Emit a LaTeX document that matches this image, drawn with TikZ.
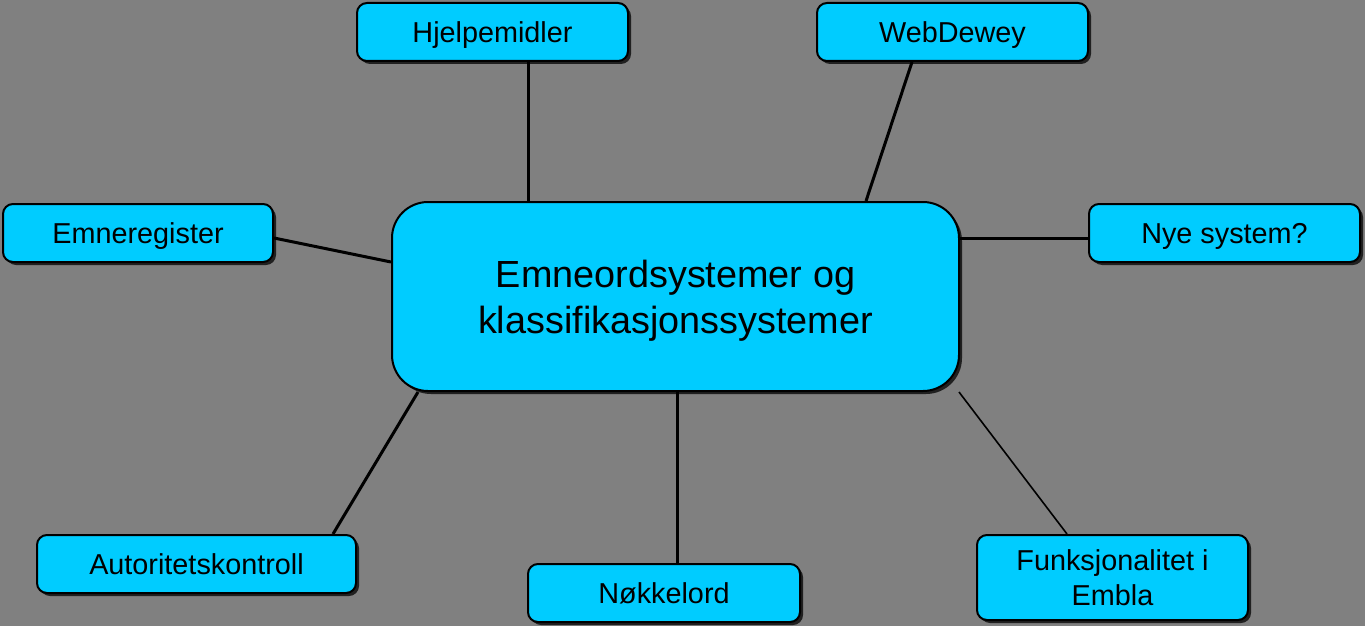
\documentclass[tikz,border=0pt]{standalone}
\usepackage{fontspec}
\setmainfont{Liberation Sans}
\usetikzlibrary{calc,shadows}
\definecolor{bg}{RGB}{128,128,128}
\definecolor{boxfill}{RGB}{0,204,255}
\tikzset{
  boxbase/.style={draw=black, line width=2pt, fill=boxfill, inner sep=0pt, align=center, text depth=0pt,
    drop shadow={shadow xshift=3pt, shadow yshift=-3pt, fill=black, opacity=0.75}},
  smallbox/.style={boxbase, rounded corners=10pt, minimum width=271pt, minimum height=58pt,
    font=\fontsize{28.8}{34}\selectfont},
  bigbox/.style={boxbase, rounded corners=36pt, minimum width=567pt, minimum height=189pt,
    font=\fontsize{37.8}{46}\selectfont},
  conn/.style={draw=black, line width=3pt},
  thinconn/.style={draw=black, line width=1.6pt}
}
\begin{document}
\begin{tikzpicture}[x=1pt,y=-1pt]
\fill[bg] (0,0) rectangle (1365,626);
\useasboundingbox (0,0) rectangle (1365,626);
\node[bigbox] (c) at (675.5,296.5) {Emneordsystemer og\\klassifikasjonssystemer};
\node[smallbox] (hjel) at (492.5,32) {Hjelpemidler};
\node[smallbox] (web) at (952.5,32) {WebDewey};
\node[smallbox, minimum width=270pt] (emn) at (138,233) {Emneregister};
\node[smallbox] (nye) at (1224.5,233) {Nye system?};
\node[smallbox, minimum width=319pt] (aut) at (196.5,564) {Autoritetskontroll};
\node[smallbox, minimum width=272pt] (nok) at (664,593) {Nøkkelord};
\node[smallbox, minimum height=85pt, font=\fontsize{28.8}{35}\selectfont] (fun) at (1112.5,577.5) {Funksjonalitet i\\Embla};
\draw[conn] ($(hjel.south)+(35.5,0)$) -- ($(c.north)+(-147.5,0)$);
\draw[conn] ($(web.south)+(-40.5,0)$) -- ($(c.north)+(190.5,0)$);
\draw[conn] ($(emn.east)+(0,5)$) -- ($(c.west)+(0,-34.5)$);
\draw[conn] ($(c.east)+(0,-58.5)$) -- ($(nye.west)+(0,5)$);
\draw[conn] ($(c.south)+(-257.5,0)$) -- ($(aut.north)+(136.5,0)$);
\draw[conn] ($(c.south)+(1.5,0)$) -- ($(nok.north)+(13,0)$);
\draw[thinconn] ($(c.south)+(283.5,0)$) -- ($(fun.north)+(-45.5,0)$);
\end{tikzpicture}
\end{document}
